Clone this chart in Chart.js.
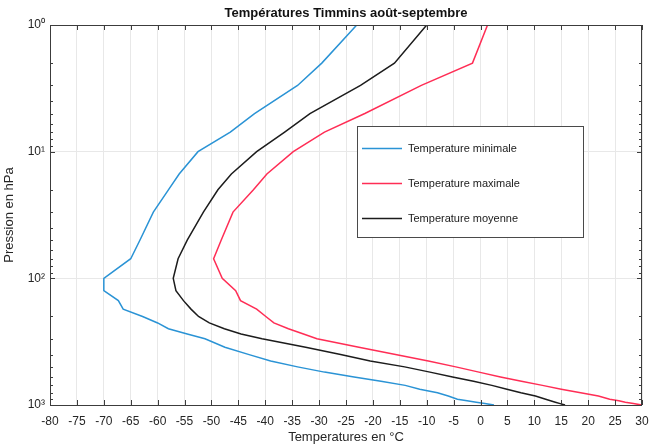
<!DOCTYPE html>
<html>
<head>
<meta charset="utf-8">
<script src="https://cdn.jsdelivr.net/npm/chart.js@4.4.0/dist/chart.umd.min.js"></script>
<style>
html,body{margin:0;padding:0;background:#fff;}
#wrap{width:652px;height:447px;position:relative;}
</style>
</head>
<body>
<div id="wrap"><canvas id="c" width="652" height="447"></canvas></div>
<script>
// Pressure levels (hPa)
const pressures = [1,2,3,5,7,10,15,20,30,50,70,100,125,150,175,200,225,250,275,300,350,400,450,500,550,600,650,700,750,800,850,900,925,950,975,1000];
// Temperatures (°C)
const tempMin  = [-23,-29.5,-34,-42,-46.5,-52.5,-56,-58,-60.8,-63.3,-65,-70,-70,-67.3,-66.4,-62.8,-60,-58,-54.5,-51.2,-47.5,-43,-39,-34,-29,-23.5,-18.5,-14,-11.3,-8,-6,-4.3,-2.5,-0.8,0.8,2.5];
const tempMax  = [1.3,-1.5,-11,-21.5,-29,-34.8,-39.7,-42.2,-46,-48.2,-49.6,-48,-45.5,-44.6,-41.6,-39.9,-38.4,-35.7,-32.9,-30.4,-22.6,-15.8,-9.7,-4.6,-0.3,3.7,7.6,11.5,15,18.6,21.9,24,25.7,26.9,28.4,30];
const tempMean = [-10,-16,-22.3,-31.7,-36.4,-41.6,-46.3,-48.8,-51.5,-54.5,-56.2,-57.1,-56.6,-55.2,-53.8,-52.4,-50.4,-47.6,-44.5,-40.6,-32.5,-26,-20.5,-14.1,-9.4,-5.2,-1.3,2.1,4.9,7.5,10.2,12.1,13,13.9,14.8,15.7];

const seriesLabels = ['Temperature minimale','Temperature maximale','Temperature moyenne'];
const xTickValues = [-80,-75,-70,-65,-60,-55,-50,-45,-40,-35,-30,-25,-20,-15,-10,-5,0,5,10,15,20,25,30];
const yMajorTicks = [1,10,100,1000];
const yTickLabels = ['10\u2070','10\u00B9','10\u00B2','10\u00B3'];

const titleText = 'Températures Timmins août-septembre';
const xTitle = 'Temperatures en °C';
const yTitle = 'Pression en hPa';

const FONT = '"Liberation Sans", Arial, Helvetica, sans-serif';
const TXT = '#262626';
const colors = ['#2a93d5','#ff2d55','#1c1c1c'];

function pts(temps){ return temps.map((t,i)=>({x:t, y:pressures[i]})); }

const framePlugin = {
  id: 'frameTicks',
  afterDraw(chart){
    const {ctx, chartArea:a, scales:{x, y}} = chart;
    ctx.save();
    ctx.strokeStyle = '#3c3c3c';
    ctx.lineWidth = 1;
    ctx.beginPath();
    xTickValues.forEach(v => {
      const px = Math.round(x.getPixelForValue(v)) + 0.5;
      ctx.moveTo(px, a.bottom); ctx.lineTo(px, a.bottom - 5);
      ctx.moveTo(px, a.top); ctx.lineTo(px, a.top + 5);
    });
    for (let d = 1; d <= 100; d *= 10) {
      for (let k = 1; k <= 9; k++) {
        const v = k * d;
        const len = k === 1 ? 5 : 3;
        const py = Math.round(y.getPixelForValue(v)) + 0.5;
        ctx.moveTo(a.left, py); ctx.lineTo(a.left + len, py);
        ctx.moveTo(a.right, py); ctx.lineTo(a.right - len, py);
      }
    }
    ctx.stroke();
    ctx.strokeRect(Math.round(a.left)+0.5, Math.round(a.top)+0.5, Math.round(a.right-a.left)-1, Math.round(a.bottom-a.top));
    ctx.restore();
  }
};

const legendPlugin = {
  id: 'boxLegend',
  afterDraw(chart){
    const {ctx, chartArea:a} = chart;
    const bx = a.left + 307, by = a.top + 101, bw = 226, bh = 111;
    ctx.save();
    ctx.fillStyle = '#fff';
    ctx.fillRect(bx, by, bw, bh);
    ctx.strokeStyle = '#4a4a4a';
    ctx.lineWidth = 1;
    ctx.strokeRect(Math.round(bx)+0.5, Math.round(by)+0.5, bw, bh);
    ctx.font = '11px ' + FONT;
    ctx.textBaseline = 'middle';
    ctx.textAlign = 'left';
    chart.data.datasets.forEach((ds, i) => {
      const ry = Math.round(by + 22 + i * 35) + 0.5;
      ctx.strokeStyle = ds.borderColor;
      ctx.lineWidth = 1.5;
      ctx.beginPath();
      ctx.moveTo(bx + 5, ry); ctx.lineTo(bx + 45, ry);
      ctx.stroke();
      ctx.fillStyle = '#1a1a1a';
      ctx.fillText(ds.label, bx + 51, ry);
    });
    ctx.restore();
  }
};

new Chart(document.getElementById('c'), {
  type: 'scatter',
  data: {
    datasets: [
      {label: seriesLabels[0], data: pts(tempMin),  borderColor: colors[0], backgroundColor: colors[0]},
      {label: seriesLabels[1], data: pts(tempMax),  borderColor: colors[1], backgroundColor: colors[1]},
      {label: seriesLabels[2], data: pts(tempMean), borderColor: colors[2], backgroundColor: colors[2]}
    ].map(d => Object.assign(d, {showLine: true, borderWidth: 1.5, pointRadius: 0, tension: 0, fill: false}))
  },
  options: {
    responsive: false,
    animation: false,
    devicePixelRatio: 1,
    layout: {padding: {left: 0, right: 10, top: 0, bottom: 0}},
    plugins: {
      legend: {display: false},
      tooltip: {enabled: false},
      title: {
        display: true, text: titleText, color: '#111', fullSize: false,
        font: {family: FONT, size: 13, weight: 'bold', lineHeight: '16px'},
        padding: {top: 5, bottom: 4}
      }
    },
    scales: {
      x: {
        type: 'linear', min: -80, max: 30,
        afterBuildTicks: s => { s.ticks = xTickValues.map(v => ({value: v})); },
        afterFit: s => { s.height = 42; s.paddingLeft = 0; s.paddingRight = 0; },
        grid: {color: '#e8e8e8', drawTicks: false, lineWidth: 1},
        border: {display: false},
        ticks: {color: TXT, font: {family: FONT, size: 12}, padding: 9, maxRotation: 0, autoSkip: false,
                callback: v => String(v)},
        title: {display: true, text: xTitle, color: TXT, font: {family: FONT, size: 13}, padding: {top: 0, bottom: 2}}
      },
      y: {
        type: 'logarithmic', reverse: true, min: 1, max: 1000,
        afterBuildTicks: s => { s.ticks = yMajorTicks.map(v => ({value: v})); },
        afterFit: s => { s.width = 50; s.paddingTop = 0; s.paddingBottom = 0; },
        grid: {color: '#e8e8e8', drawTicks: false, lineWidth: 1},
        border: {display: false},
        ticks: {color: TXT, font: {family: FONT, size: 12}, padding: 5, autoSkip: false,
                callback: v => { const i = yMajorTicks.indexOf(v); return i >= 0 ? yTickLabels[i] : ''; }},
        title: {display: true, text: yTitle, color: TXT, font: {family: FONT, size: 13}, padding: {top: 2, bottom: 0}}
      }
    }
  },
  plugins: [framePlugin, legendPlugin]
});
</script>
</body>
</html>
